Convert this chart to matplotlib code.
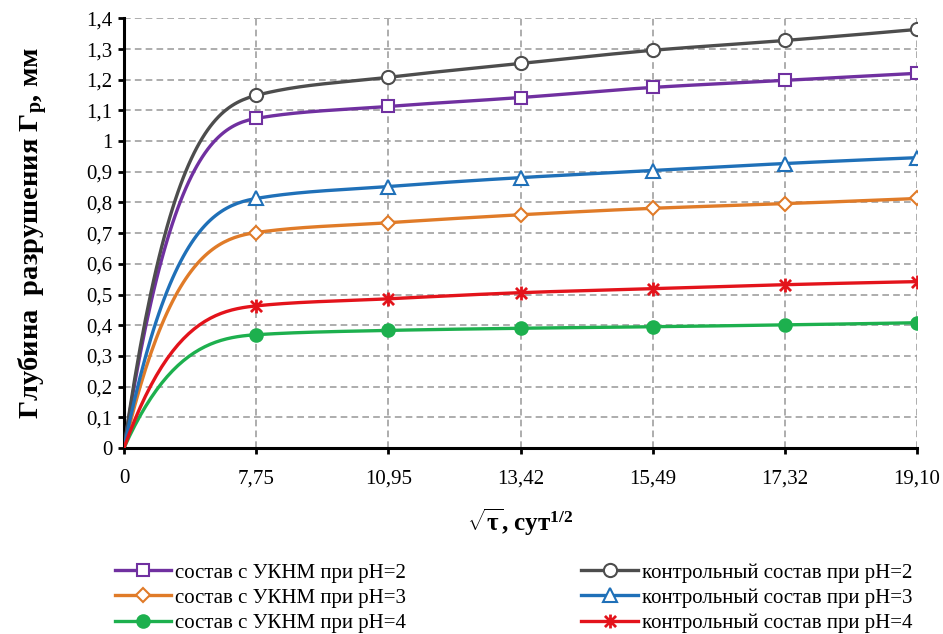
import numpy as np
import matplotlib
matplotlib.use('Agg')
import matplotlib.pyplot as plt
from matplotlib.lines import Line2D
from matplotlib.path import Path
from matplotlib.ticker import FuncFormatter

plt.rcParams['font.family'] = ['Liberation Serif', 'DejaVu Serif']
plt.rcParams['mathtext.fontset'] = 'custom'
plt.rcParams['mathtext.rm'] = 'Liberation Serif'
plt.rcParams['mathtext.it'] = 'Liberation Serif:italic'
plt.rcParams['mathtext.bf'] = 'Liberation Serif:bold'

# data
x_labels = ['0', '7,75', '10,95', '13,42', '15,49', '17,32', '19,10']
ukmn_ph2 = [0, 1.074, 1.113, 1.142, 1.175, 1.198, 1.221]
ukmn_ph3 = [0, 0.702, 0.734, 0.760, 0.781, 0.796, 0.813]
ukmn_ph4 = [0, 0.369, 0.383, 0.390, 0.395, 0.401, 0.408]
ctrl_ph2 = [0, 1.149, 1.208, 1.253, 1.296, 1.328, 1.364]
ctrl_ph3 = [0, 0.813, 0.852, 0.881, 0.904, 0.927, 0.946]
ctrl_ph4 = [0, 0.463, 0.486, 0.506, 0.519, 0.532, 0.542]

# asterisk marker: vertical bar plus an x
star = Path([(0, -1), (0, 1), (-0.8, -0.8), (0.8, 0.8), (-0.8, 0.8), (0.8, -0.8)],
            [Path.MOVETO, Path.LINETO] * 3)

series = [
    (ukmn_ph2, 'состав с УКНМ при pH=2', '#7030A0', 's', 'white', 8.5),
    (ukmn_ph3, 'состав с УКНМ при pH=3', '#E07B28', 'D', 'white', 7.5),
    (ukmn_ph4, 'состав с УКНМ при pH=4', '#1DB04E', 'o', None, 9),
    (ctrl_ph2, 'контрольный состав при pH=2', '#4D4D4D', 'o', 'white', 9.5),
    (ctrl_ph3, 'контрольный состав при pH=3', '#1F70B8', '^', 'white', 10),
    (ctrl_ph4, 'контрольный состав при pH=4', '#E3131B', star, None, 10),
]


def smooth(ys, n=50):
    # monotone hermite curve through the points (steep start like the source)
    ys = np.asarray(ys, float)
    d = np.diff(ys)
    m = np.zeros(len(ys))
    for i in range(1, len(ys) - 1):
        if d[i - 1] * d[i] > 0:
            m[i] = 2 / (1 / d[i - 1] + 1 / d[i])
    m[0] = 2.6 * d[0]
    m[-1] = max((3 * d[-1] - d[-2]) / 2, 0)
    t = np.linspace(0, 1, n)
    h00 = 2*t**3 - 3*t**2 + 1
    h10 = t**3 - 2*t**2 + t
    h01 = -2*t**3 + 3*t**2
    h11 = t**3 - t**2
    px, py = [], []
    for i in range(len(ys) - 1):
        px.extend(i + t)
        py.extend(h00*ys[i] + h10*m[i] + h01*ys[i+1] + h11*m[i+1])
    return px, py


fig = plt.figure(figsize=(9.43, 6.34), dpi=100)
ax = fig.add_axes([0.1315, 0.2935, 0.841, 0.6775])

xpos = np.arange(len(x_labels))
handles = []
for vals, lab, col, mk, fc, ms in series:
    sx, sy = smooth(vals)
    ax.plot(sx, sy, color=col, lw=2.4, zorder=3, solid_capstyle='round')
    face = col if fc is None else fc
    mew = 1.5 if mk is not star else 2
    ax.plot(xpos[1:], vals[1:], ls='none', marker=mk, ms=ms, mfc=face,
            mec=col, mew=mew, zorder=4)
    handles.append(Line2D([], [], color=col, lw=2.4, marker=mk, ms=ms,
                          mfc=face, mec=col, mew=mew, label=lab))

ax.set_xlim(0, 6)
ax.set_ylim(0, 1.4)
ax.set_xticks(xpos)
ax.set_xticklabels(x_labels)
ax.set_yticks(np.arange(0, 1.41, 0.1))
ax.yaxis.set_major_formatter(FuncFormatter(
    lambda v, p: ('%g' % round(v, 1)).replace('.', ',')))
ax.grid(True, ls=(0, (4, 2.5)), color='#A0A0A0', lw=1.2)
ax.set_axisbelow(True)
for s in ['top', 'right']:
    ax.spines[s].set_visible(False)
for s in ['left', 'bottom']:
    ax.spines[s].set_linewidth(2.2)
ax.tick_params(axis='both', labelsize=15, width=2, length=4.5, direction='out')
ax.tick_params(axis='x', pad=11)
ax.tick_params(axis='y', pad=4)

ax.set_ylabel('Глубина  разрушения Г$_\\mathbf{р}$, мм', fontsize=20.5,
              fontweight='bold', labelpad=26)
ax.set_xlabel('$\\mathbf{\\sqrt{\\tau}}$, сут$^{\\mathbf{1/2}}$', fontsize=18,
              fontweight='bold', labelpad=13)

fig.legend(handles=handles, loc='upper left', bbox_to_anchor=(0.122, 0.112),
           ncol=2, frameon=False, fontsize=15, handlelength=2.7,
           handletextpad=0.2, columnspacing=8.4, labelspacing=0.27,
           borderpad=0, borderaxespad=0)

plt.savefig('out.png', dpi=100)
